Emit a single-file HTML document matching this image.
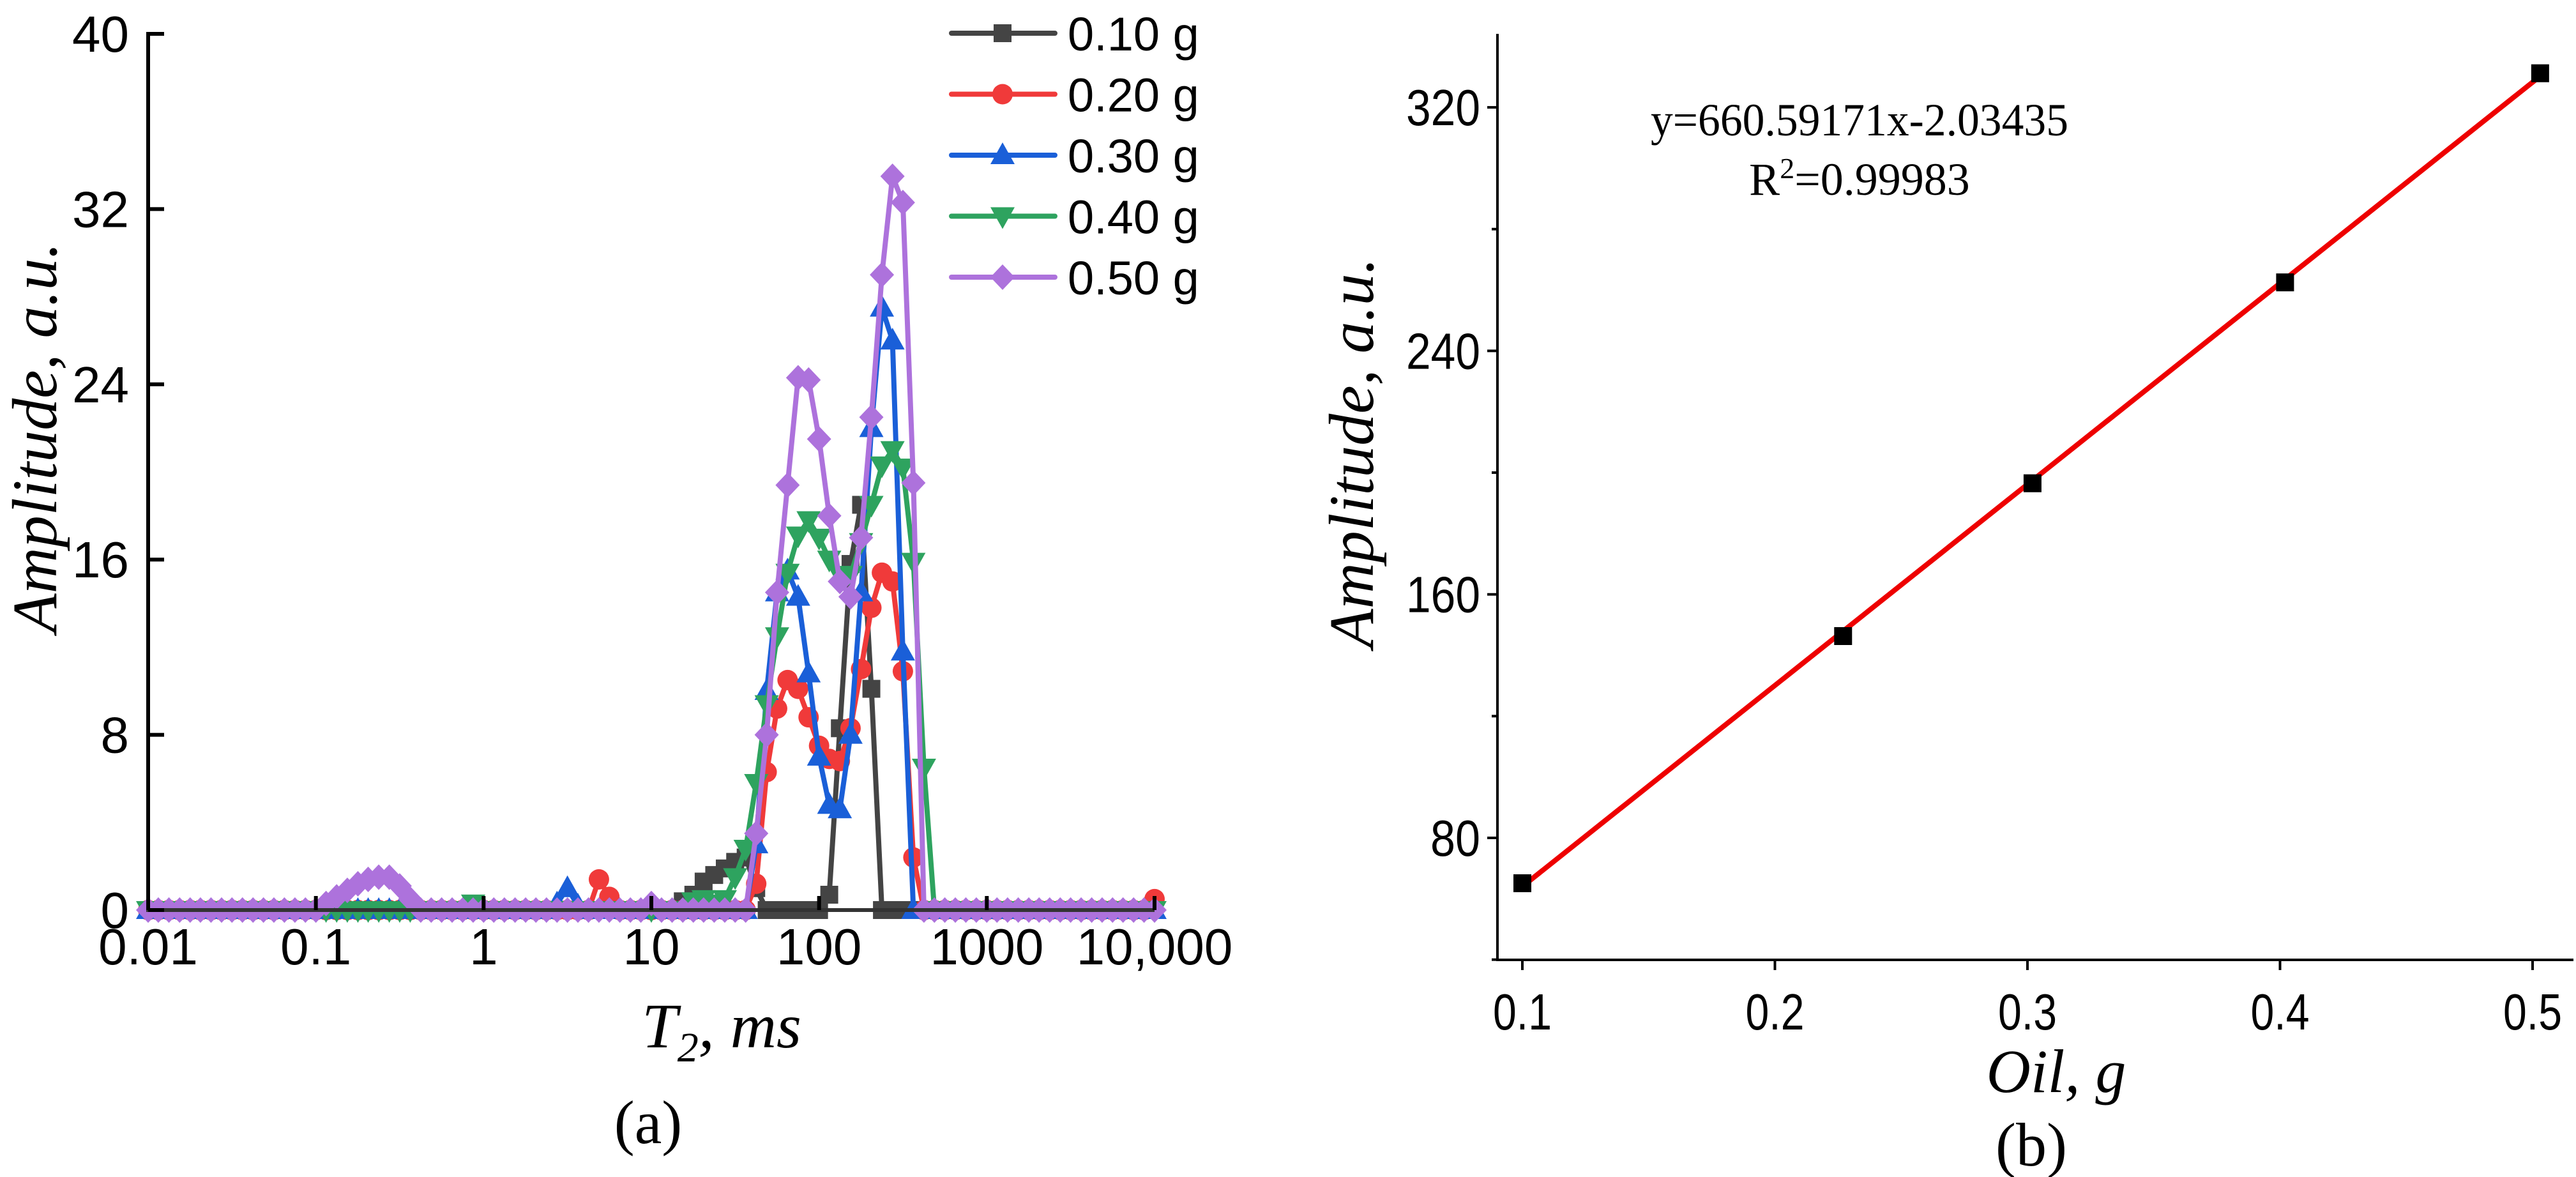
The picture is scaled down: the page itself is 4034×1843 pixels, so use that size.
<!DOCTYPE html>
<html><head><meta charset="utf-8"><style>
html,body{margin:0;padding:0;background:#fff;}
svg{display:block;}
</style></head><body>
<svg id="fig" width="4034" height="1843" viewBox="0 0 4034 1843" xmlns="http://www.w3.org/2000/svg">
<g id="pa"></g>
<g id="pb"></g>
</svg>
<script>
// ---------- Panel (a) data ----------
const aYTicks = [0, 8, 16, 24, 32, 40];
const aXTicks = [0.01, 0.1, 1, 10, 100, 1000, 10000];
const aXTickLabels = ["0.01", "0.1", "1", "10", "100", "1000", "10,000"];
const seriesNames = ["0.10 g", "0.20 g", "0.30 g", "0.40 g", "0.50 g"];
// T2 grid (ms): 16 points per decade, 0.01 .. 10000
const t2Mant = [1.00,1.15,1.33,1.54,1.78,2.05,2.37,2.74,3.16,3.65,4.22,4.87,5.62,6.49,7.50,8.66];
const t2Decades = [0.01, 0.1, 1, 10, 100, 1000];
// amplitude arrays (97 points each, index i => T2 grid)
const amp010 = [0,0,0,0,0,0,0,0,0,0,0,0,0,0,0,0, 0,0,0,0,0,0,0,0,0,0,0,0,0,0,0,0, 0,0,0,0,0,0,0,0,0,0,0,0,0,0,0,0, 0,0,0,0.4,0.7,1.3,1.6,1.9,2.2,2.4,1.0,0,0,0,0,0, 0,0.7,8.3,15.8,18.5,10.1,0,0,0,0,0,0,0,0,0,0, 0,0,0,0,0,0,0,0,0,0,0,0,0,0,0,0, 0];
const amp020 = [0,0,0,0,0,0,0,0,0,0,0,0,0,0,0,0, 0,0,0,0,0,0,0,0,0,0,0,0,0,0,0,0, 0,0,0,0,0,0,0,0,0,0,0,1.4,0.6,0,0,0, 0,0,0,0,0,0,0,0,0,0,1.2,6.3,9.2,10.5,10.1,8.8, 7.5,6.9,6.8,8.3,11,13.8,15.4,15,10.9,2.4,0,0,0,0,0,0, 0,0,0,0,0,0,0,0,0,0,0,0,0,0,0,0, 0.5];
const amp030 = [0,0,0,0,0,0,0,0,0,0,0,0,0,0,0,0, 0,0,0,0,0,0,0,0,0,0,0,0,0,0,0,0, 0,0,0,0,0,0,0,0.3,1.0,0.2,0,0,0,0,0,0, 0,0,0,0,0,0,0,0,0,0,3,10,14.5,15.5,14.3,10.8, 7,4.8,4.6,8,14.5,22,27.5,26,11.8,0,0,0,0,0,0,0, 0,0,0,0,0,0,0,0,0,0,0,0,0,0,0,0, 0];
const amp040 = [0,0,0,0,0,0,0,0,0,0,0,0,0,0,0,0, 0,0,0,0,0,0,0,0,0,0,0,0,0,0,0,0.3, 0,0,0,0,0,0,0,0,0,0,0,0,0,0,0,0, 0,0,0,0,0.4,0.5,0.3,0.5,1.5,2.8,5.8,9.4,12.5,15.4,17.1,17.8, 17,16,15.3,15.3,16.8,18.5,20.3,21,20.2,15.9,6.5,0,0,0,0,0, 0,0,0,0,0,0,0,0,0,0,0,0,0,0,0,0, 0];
const amp050 = [0,0,0,0,0,0,0,0,0,0,0,0,0,0,0,0, 0,0.3,0.6,0.9,1.2,1.4,1.5,1.5,1.1,0.5,0,0,0,0,0,0, 0,0,0,0,0,0,0,0,0,0,0,0,0,0,0,0, 0.3,0,0,0,0,0,0,0,0,0,3.5,8,14.5,19.4,24.3,24.2, 21.5,18,15,14.3,17,22.5,29,33.5,32.3,19.5,0,0,0,0,0,0, 0,0,0,0,0,0,0,0,0,0,0,0,0,0,0,0, 0];

// ---------- Panel (b) data ----------
const oilMass = [0.1, 0.227, 0.302, 0.402, 0.503];
const oilAmp = [65.1, 146.3, 196.5, 262.5, 331.2];
const fitSlope = 660.59171;
const fitIntercept = -2.03435;
const bXTicks = [0.1, 0.2, 0.3, 0.4, 0.5];
const bYTicks = [80, 160, 240, 320];
const bYMinor = [40, 120, 200, 280];

const NS = "http://www.w3.org/2000/svg";
function mk(parent, tag, attrs, text) {
  const e = document.createElementNS(NS, tag);
  for (const k in attrs) e.setAttribute(k, attrs[k]);
  if (text !== undefined) e.textContent = text;
  parent.appendChild(e);
  return e;
}

// ===== Panel A =====
const pa = document.getElementById('pa');
const aL = 232, aR = 1808, aT = 53, aB = 1425;
const ax = v => aL + (Math.log10(v) + 2) / 6 * (aR - aL);
const ay = v => aB - v / 40 * (aB - aT);
const t2 = [];
t2Decades.forEach(d => t2Mant.forEach(m => t2.push(m * d)));
t2.push(10000);

const colors = ["#444444", "#f03a3a", "#1a5fd8", "#2ea35f", "#ad72dc"];
const markers = ["square", "circle", "up", "down", "diamond"];
const allAmp = [amp010, amp020, amp030, amp040, amp050];

function marker(g, type, x, y, color) {
  let e;
  if (type === "square") e = mk(g, "rect", {x: x - 14, y: y - 14, width: 28, height: 28, fill: color});
  else if (type === "circle") e = mk(g, "circle", {cx: x, cy: y, r: 16, fill: color});
  else if (type === "up") e = mk(g, "polygon", {points: `${x},${y-20} ${x+19},${y+14} ${x-19},${y+14}`, fill: color});
  else if (type === "down") e = mk(g, "polygon", {points: `${x},${y+20} ${x+19},${y-14} ${x-19},${y-14}`, fill: color});
  else e = mk(g, "polygon", {points: `${x},${y-20} ${x+19},${y} ${x},${y+20} ${x-19},${y}`, fill: color});
  
  
  return e;
}

allAmp.forEach((arr, s) => {
  const g = mk(pa, "g", {});
  
  
  const pts = arr.map((v, i) => `${ax(t2[i]).toFixed(1)},${ay(v).toFixed(1)}`).join(" ");
  const pl = mk(g, "polyline", {points: pts, fill: "none", stroke: colors[s], "stroke-width": 8, "stroke-linejoin": "round"});
  
  
  arr.forEach((v, i) => marker(g, markers[s], ax(t2[i]), ay(v), colors[s]));
});

// axes A
const axA = mk(pa, "g", {});


mk(axA, "line", {x1: aL, y1: aT - 3, x2: aL, y2: aB + 3, stroke: "#000", "stroke-width": 6});
mk(axA, "line", {x1: aL - 3, y1: aB, x2: aR, y2: aB, stroke: "#333", "stroke-width": 6});
aYTicks.forEach(v => {
  mk(axA, "line", {x1: aL, y1: ay(v), x2: aL + 25, y2: ay(v), stroke: "#000", "stroke-width": 6});
  const t = mk(axA, "text", {x: 202, y: ay(v) + 28, "text-anchor": "end", "font-family": "Liberation Sans, sans-serif", "font-size": 80}, String(v));
  
  
});
aXTicks.forEach((v, i) => {
  mk(axA, "line", {x1: ax(v), y1: aB, x2: ax(v), y2: aB - 22, stroke: "#000", "stroke-width": 6});
  const t = mk(axA, "text", {x: ax(v), y: 1510, "text-anchor": "middle", "font-family": "Liberation Sans, sans-serif", "font-size": 80}, aXTickLabels[i]);
  
  
});
let tt = mk(axA, "text", {x: 1130, y: 1640, "text-anchor": "middle", "font-family": "Liberation Serif, serif", "font-style": "italic", "font-size": 100});


mk(tt, "tspan", {}, "T");
mk(tt, "tspan", {dy: 22, "font-size": 66}, "2");
mk(tt, "tspan", {dy: -22}, ", ms");
tt = mk(axA, "text", {x: 0, y: 0, transform: "translate(88,685) rotate(-90)", "text-anchor": "middle", "font-family": "Liberation Serif, serif", "font-style": "italic", "font-size": 100}, "Amplitude, a.u.");


tt = mk(axA, "text", {x: 1015, y: 1790, "text-anchor": "middle", "font-family": "Liberation Serif, serif", "font-size": 96}, "(a)");



// legend A
const lg = mk(pa, "g", {});


seriesNames.forEach((n, s) => {
  const y = 52 + s * 95.5;
  const e = mk(lg, "g", {});
  
  
  mk(e, "line", {x1: 1490, y1: y, x2: 1652, y2: y, stroke: colors[s], "stroke-width": 8, "stroke-linecap": "round"});
  marker(e, markers[s], 1570, y, colors[s]);
  mk(e, "text", {x: 1672, y: y + 27, "font-family": "Liberation Sans, sans-serif", "font-size": 74}, n);
});

// ===== Panel B =====
const pb = document.getElementById('pb');
const bL = 2345, bR = 4030, bT = 53, bB = 1503;
const bx = v => 2384 + (v - 0.1) / 0.1 * 395.5;
const by = v => 1312 - (v - 80) / 80 * 381.3;
const axB = mk(pb, "g", {});


mk(axB, "line", {x1: bL, y1: bT, x2: bL, y2: bB + 2, stroke: "#000", "stroke-width": 4});
mk(axB, "line", {x1: bL - 2, y1: bB, x2: bR, y2: bB, stroke: "#000", "stroke-width": 4});
bYTicks.forEach(v => {
  mk(axB, "line", {x1: bL, y1: by(v), x2: bL - 16, y2: by(v), stroke: "#000", "stroke-width": 4});
  const t = mk(axB, "text", {x: 2318, y: by(v) + 28, "text-anchor": "end", "font-family": "Liberation Sans, sans-serif", "font-size": 80, textLength: v >= 100 ? 116 : 78, lengthAdjust: "spacingAndGlyphs"}, String(v));
  
  
});
bYMinor.forEach(v => mk(axB, "line", {x1: bL, y1: by(v), x2: bL - 9, y2: by(v), stroke: "#000", "stroke-width": 4}));
bXTicks.forEach(v => {
  mk(axB, "line", {x1: bx(v), y1: bB, x2: bx(v), y2: bB + 16, stroke: "#000", "stroke-width": 4});
  const t = mk(axB, "text", {x: bx(v), y: 1612, "text-anchor": "middle", "font-family": "Liberation Sans, sans-serif", "font-size": 80, textLength: 92, lengthAdjust: "spacingAndGlyphs"}, String(v));
  
  
});
tt = mk(axB, "text", {x: 3220, y: 1710, "text-anchor": "middle", "font-family": "Liberation Serif, serif", "font-style": "italic", "font-size": 96}, "Oil, g");


tt = mk(axB, "text", {x: 0, y: 0, transform: "translate(2150,709) rotate(-90)", "text-anchor": "middle", "font-family": "Liberation Serif, serif", "font-style": "italic", "font-size": 100}, "Amplitude, a.u.");


tt = mk(axB, "text", {x: 3181, y: 1825, "text-anchor": "middle", "font-family": "Liberation Serif, serif", "font-size": 96}, "(b)");



// fit line
const x0 = oilMass[0], x1 = oilMass[oilMass.length - 1];
const fl = mk(pb, "line", {x1: bx(x0), y1: by(fitSlope * x0 + fitIntercept), x2: bx(x1), y2: by(fitSlope * x1 + fitIntercept), stroke: "#ee0000", "stroke-width": 8});


oilMass.forEach((m, i) => {
  const r = mk(pb, "rect", {x: bx(m) - 14, y: by(oilAmp[i]) - 14, width: 28, height: 28, fill: "#000"});
  
  
});
tt = mk(pb, "text", {x: 2912, y: 212, "text-anchor": "middle", "font-family": "Liberation Serif, serif", "font-size": 72, textLength: 654, lengthAdjust: "spacingAndGlyphs"}, "y=660.59171x-2.03435");


tt = mk(pb, "text", {x: 2912, y: 305, "text-anchor": "middle", "font-family": "Liberation Serif, serif", "font-size": 72});


mk(tt, "tspan", {}, "R");
mk(tt, "tspan", {dy: -26, "font-size": 46}, "2");
mk(tt, "tspan", {dy: 26}, "=0.99983");
</script>
</body></html>
